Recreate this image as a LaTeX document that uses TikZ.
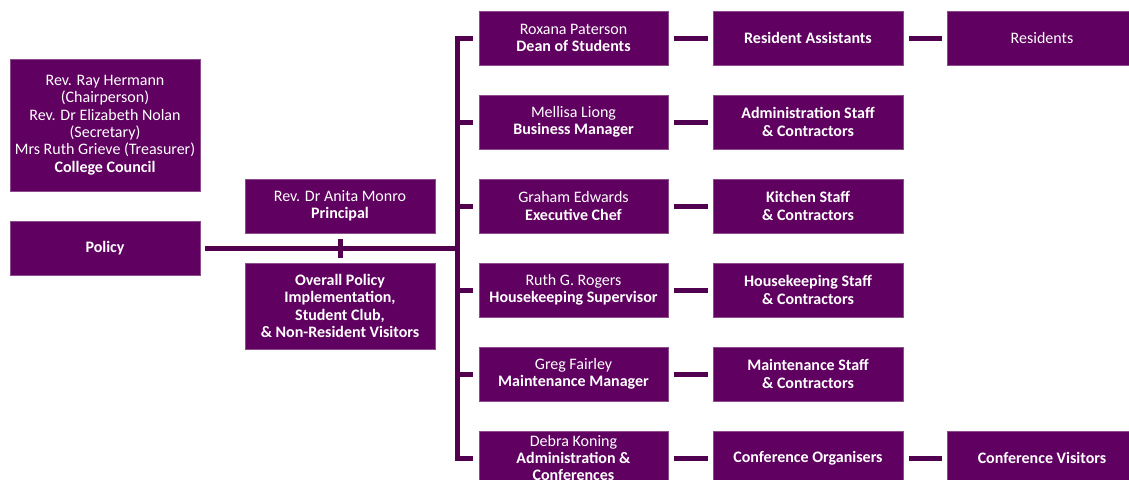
\documentclass[tikz,border=0pt]{standalone}
\usepackage{fontspec}
\setmainfont{Carlito}
\definecolor{boxfill}{HTML}{600060}
\definecolor{boxedge}{HTML}{8C4C8C}
\definecolor{linecol}{HTML}{520050}
\tikzset{
  card/.style={draw=boxedge, line width=0.8pt, fill=boxfill, text=white, align=center,
    minimum width=190pt, minimum height=54pt, inner sep=2pt,
    font=\fontsize{16}{17.4}\selectfont},
  conn/.style={draw=linecol, line width=5pt},
  link/.style={conn, shorten <=6pt, shorten >=5pt},
}
\begin{document}
\begin{tikzpicture}[x=1pt,y=-1pt]
\useasboundingbox (0,0) rectangle (1129,479);
\clip (0,0) rectangle (1129,479);
% left column
\node[card, minimum height=132pt] (council) at (105,125) {Rev. Ray Hermann\\(Chairperson)\\Rev. Dr Elizabeth Nolan\\(Secretary)\\Mrs Ruth Grieve (Treasurer)\\\textbf{College Council}};
\node[card] (policy) at (105,248) {\textbf{Policy}};
\node[card] (principal) at (340,206) {Rev. Dr Anita Monro\\\textbf{Principal}};
\node[card, minimum height=86pt] (overall) at (340,306) {\textbf{Overall Policy}\\\textbf{Implementation,}\\\textbf{Student Club,}\\\textbf{\& Non-Resident Visitors}};
% second column
\node[card, minimum width=189pt] (dean) at (573.5,38) {Roxana Paterson\\\textbf{Dean of Students}};
\node[card, minimum width=189pt] (business) at (573.5,122) {Mellisa Liong\\\textbf{Business Manager}};
\node[card, minimum width=189pt] (chef) at (573.5,206) {Graham Edwards\\\textbf{Executive Chef}};
\node[card, minimum width=189pt] (house) at (573.5,290) {Ruth G. Rogers\\\textbf{Housekeeping Supervisor}};
\node[card, minimum width=189pt] (maint) at (573.5,374) {Greg Fairley\\\textbf{Maintenance Manager}};
\node[card, minimum width=189pt] (admin) at (573.5,458) {Debra Koning\\\textbf{Administration \&}\\\textbf{Conferences}};
% third column
\node[card] (ra) at (808,38) {\textbf{Resident Assistants}};
\node[card] (adstaff) at (808,122) {\textbf{Administration Staff}\\\textbf{\& Contractors}};
\node[card] (kitchen) at (808,206) {\textbf{Kitchen Staff}\\\textbf{\& Contractors}};
\node[card] (hkstaff) at (808,290) {\textbf{Housekeeping Staff}\\\textbf{\& Contractors}};
\node[card] (mstaff) at (808,374) {\textbf{Maintenance Staff}\\\textbf{\& Contractors}};
\node[card] (corg) at (808,458) {\textbf{Conference Organisers}};
% fourth column
\node[card] (residents) at (1042,38) {Residents};
\node[card] (cvis) at (1042,458) {\textbf{Conference Visitors}};
% bus
\coordinate (bus) at (457,0);
\draw[conn, line join=miter] ([xshift=-6pt]dean.west) -- (bus |- dean.west) -- (bus |- admin.west) -- ([xshift=-6pt]admin.west);
\foreach \n in {business,chef,house,maint}
  \draw[conn] (bus |- \n.west) -- ([xshift=-6pt]\n.west);
\draw[conn] ([xshift=5pt]policy.east) -- (bus |- policy.east);
\draw[conn] ([yshift=-6pt]principal.south) -- ([yshift=5pt]overall.north);
% links
\draw[link] (dean) -- (ra);
\draw[link] (ra) -- (residents);
\draw[link] (business) -- (adstaff);
\draw[link] (chef) -- (kitchen);
\draw[link] (house) -- (hkstaff);
\draw[link] (maint) -- (mstaff);
\draw[link] (admin) -- (corg);
\draw[link] (corg) -- (cvis);
\end{tikzpicture}
\end{document}
